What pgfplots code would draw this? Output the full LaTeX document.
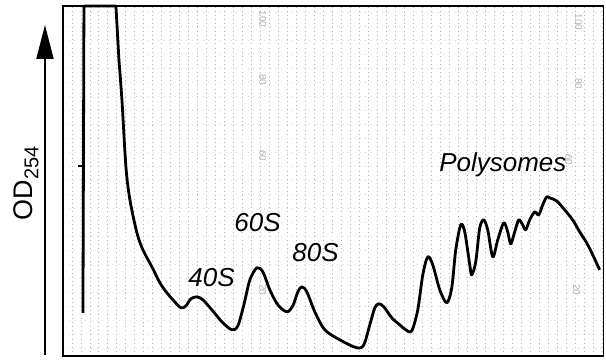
\documentclass[border=0pt]{standalone}
\usepackage{pgfplots}
\pgfplotsset{compat=1.18}
\usepackage{fontspec}
\setmainfont{Liberation Sans}
\usetikzlibrary{arrows.meta}
\begin{document}
\begin{tikzpicture}[x=1pt,y=1pt]
\path (0,0) rectangle (606,358);
\begin{axis}[
  at={(63pt,2pt)}, anchor=south west,
  scale only axis, width=541pt, height=350pt,
  xmin=63, xmax=604, ymin=0, ymax=350,
  axis line style={line width=1.6pt},
  xtick={72,81,...,600}, ytick={8,22,...,350},
  xticklabels={}, yticklabels={},
  major tick length=0pt,
  xmajorgrids, ymajorgrids,
  x grid style={gray!60, dash pattern=on 0.9pt off 3.2pt, line width=0.9pt},
  y grid style={gray!30, dash pattern=on 0.6pt off 5pt, line width=0.6pt},
  clip=false,
]
% paper scale numbers
\node[rotate=-90, text=gray!60, font=\fontsize{10}{12}\selectfont] at (axis cs:263,337) {100};
\node[rotate=-90, text=gray!60, font=\fontsize{10}{12}\selectfont] at (axis cs:263,276) {80};
\node[rotate=-90, text=gray!60, font=\fontsize{10}{12}\selectfont] at (axis cs:263,200) {60};
\node[rotate=-90, text=gray!60, font=\fontsize{10}{12}\selectfont] at (axis cs:263,66) {20};
\node[rotate=-90, text=gray!60, font=\fontsize{10}{12}\selectfont] at (axis cs:579,334) {100};
\node[rotate=-90, text=gray!60, font=\fontsize{10}{12}\selectfont] at (axis cs:579,272) {80};
\node[rotate=-90, text=gray!60, font=\fontsize{10}{12}\selectfont] at (axis cs:569,196) {60};
\node[rotate=-90, text=gray!60, font=\fontsize{10}{12}\selectfont] at (axis cs:577,66) {20};
% small tick on left trace
\addplot[black, line width=1.5pt] coordinates {(78,190) (85,190)};
% left vertical and clipped top
\addplot[black, line width=2.8pt, line join=round] coordinates {
(83,43) (84,350) (116,350) (119,296)
};
% trace
\addplot[black, line width=2.8pt, smooth, tension=0.5, line join=round] coordinates {
(119,296) (122,256) (126,189) (130,156) (137,123) (143,106) (152,89) (160,73)
(167,63) (173,56) (181,48) (186,50) (191,57) (197,59) (203,56) (212,46)
(222,34) (232,26) (238,30) (244,51) (250,76) (257,88) (263,84) (270,66)
(278,51) (287,44) (293,50) (298,64) (302,69) (307,64) (315,44) (325,26)
(340,16) (357,8) (364,11) (370,31) (375,48) (379,52) (384,49) (392,38)
(400,31) (406,26) (412,25) (418,46) (423,81) (428,99) (433,91) (440,66)
(447,53) (452,68) (456,106) (461,131) (465,124) (470,91) (472,81) (476,94)
(480,128) (484,136) (488,126) (493,99) (498,116) (504,133) (508,124) (511,112)
(515,124) (519,136) (523,131) (526,126) (530,136) (535,144) (539,141) (543,151)
(547,159) (550,158) (553,157) (558,154) (565,146) (573,136) (580,124) (587,113)
(594,99) (600,86)
};
\node[anchor=base west, font=\fontsize{26}{30}\selectfont\itshape] at (axis cs:185,69) {40S};
\node[anchor=base west, font=\fontsize{26}{30}\selectfont\itshape] at (axis cs:231,124) {60S};
\node[anchor=base west, font=\fontsize{26}{30}\selectfont\itshape] at (axis cs:289,94) {80S};
\node[anchor=base west, font=\fontsize{26}{30}\selectfont\itshape] at (axis cs:436,184) {Polysomes};
\end{axis}
\draw[line width=2pt, -{Triangle[length=34pt,width=17pt]}] (45,3) -- (45,333);
\node[rotate=90, anchor=base, font=\fontsize{27}{30}\selectfont] at (33,175) {OD\textsubscript{\fontsize{20}{22}\selectfont 254}};
\end{tikzpicture}
\end{document}
